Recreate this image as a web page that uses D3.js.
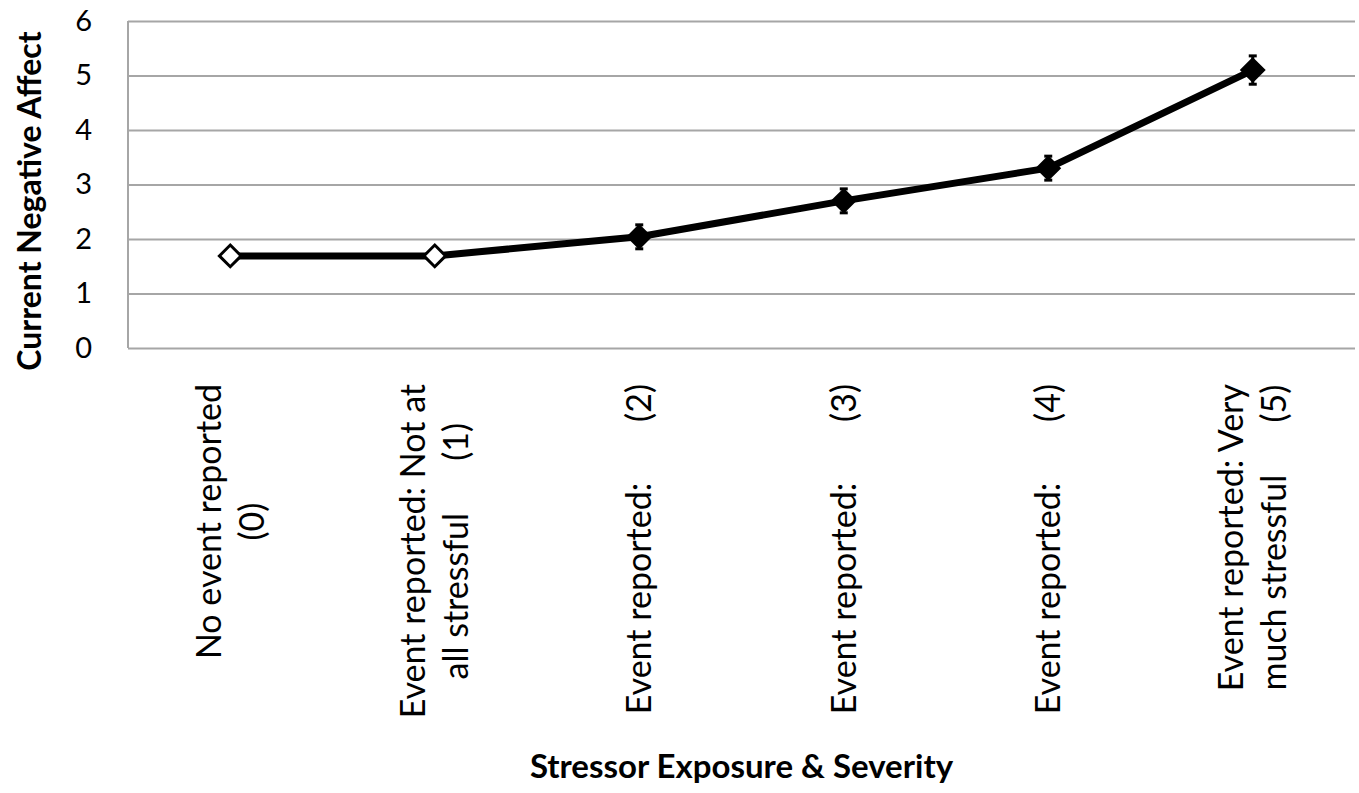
<!DOCTYPE html>
<html lang="en">
<head>
<meta charset="UTF-8" />
<title>Current Negative Affect by Stressor Exposure</title>
<script src="https://cdn.jsdelivr.net/npm/d3@7"></script>
<style>
  body { margin: 0; background: #fff; }
  text { font-family: Lato, "Open Sans", sans-serif; fill: #000; }
  .xlab { white-space: pre; }
</style>
</head>
<body>
<div id="chart"></div>
<script>
// data
var categories = ["0", "1", "2", "3", "4", "5"];
var labelLines = [
  ["No event reported", "(0)"],
  ["Event reported: Not at", "all stressful      (1)"],
  ["Event reported:       (2)"],
  ["Event reported:       (3)"],
  ["Event reported:       (4)"],
  ["Event reported: Very", "much stressful      (5)"]
];
var means = [1.69, 1.69, 2.04, 2.70, 3.30, 5.10];
var errors = [0, 0, 0.22, 0.22, 0.22, 0.26];
var hollow = [true, true, false, false, false, false];
var yTicks = [0, 1, 2, 3, 4, 5, 6];

var W = 1359, H = 793;
var margin = { top: 21, right: 4, bottom: 445, left: 128 };
var innerW = W - margin.left - margin.right;
var innerH = H - margin.top - margin.bottom;

var svg = d3.select("#chart").append("svg")
  .attr("width", W)
  .attr("height", H);

var g = svg.append("g")
  .attr("transform", "translate(" + margin.left + "," + margin.top + ")");

var x = d3.scaleBand().domain(categories).range([0, innerW]);
var y = d3.scaleLinear().domain([0, 6]).range([innerH, 0]);

// gridlines + y labels
var yAxis = g.append("g")
  .call(d3.axisLeft(y).tickValues(yTicks).tickSize(-innerW).tickPadding(36).tickFormat(d3.format("d")));
yAxis.select(".domain").remove();
yAxis.selectAll(".tick line").attr("stroke", "#a6a6a6").attr("stroke-width", 2);
yAxis.selectAll(".tick text").attr("font-size", 29).attr("fill", "#000");

// left axis line
g.append("line")
  .attr("x1", 0).attr("x2", 0)
  .attr("y1", y(6)).attr("y2", y(0))
  .attr("stroke", "#a6a6a6").attr("stroke-width", 2);

// the series line
var pts = categories.map(function(c, i) { return { c: c, v: means[i], e: errors[i], hollow: hollow[i] }; });

var line = d3.line()
  .x(function(d) { return x(d.c) + x.bandwidth() / 2; })
  .y(function(d) { return y(d.v); });

g.append("path")
  .datum(pts)
  .attr("d", line)
  .attr("fill", "none")
  .attr("stroke", "#000")
  .attr("stroke-width", 7)
  .attr("stroke-linejoin", "round");

// error bars
var eb = g.selectAll(".err").data(pts.filter(function(d) { return d.e > 0; }))
  .enter().append("g").attr("class", "err");
eb.append("line")
  .attr("x1", function(d) { return x(d.c) + x.bandwidth() / 2; })
  .attr("x2", function(d) { return x(d.c) + x.bandwidth() / 2; })
  .attr("y1", function(d) { return y(d.v + d.e); })
  .attr("y2", function(d) { return y(d.v - d.e); })
  .attr("stroke", "#000").attr("stroke-width", 3);
[1, -1].forEach(function(s) {
  eb.append("line")
    .attr("x1", function(d) { return x(d.c) + x.bandwidth() / 2 - 4; })
    .attr("x2", function(d) { return x(d.c) + x.bandwidth() / 2 + 4; })
    .attr("y1", function(d) { return y(d.v + s * d.e); })
    .attr("y2", function(d) { return y(d.v + s * d.e); })
    .attr("stroke", "#000").attr("stroke-width", 3);
});

// diamond markers
var diamond = d3.symbol().type(d3.symbolDiamond2).size(300);
g.selectAll(".mark").data(pts).enter().append("path")
  .attr("class", "mark")
  .attr("d", diamond)
  .attr("transform", function(d) { return "translate(" + (x(d.c) + x.bandwidth() / 2) + "," + y(d.v) + ")"; })
  .attr("fill", function(d) { return d.hollow ? "#fff" : "#000"; })
  .attr("stroke", "#000")
  .attr("stroke-width", 3);

// rotated category labels (top aligned, lines centred)
var labTop = innerH + 36;
var lineH = 43;
categories.forEach(function(c, i) {
  var lines = labelLines[i];
  var cx = x(c) + x.bandwidth() / 2;
  var t = g.append("g").attr("transform", "translate(" + cx + ",0) rotate(-90)");
  var texts = lines.map(function(s, j) {
    return t.append("text")
      .attr("class", "xlab")
      .attr("font-size", 34)
      .attr("text-anchor", "middle")
      .attr("y", (j - (lines.length - 1) / 2) * lineH + 12)
      .text(s);
  });
  var maxW = d3.max(texts, function(tt) { return tt.node().getComputedTextLength(); });
  texts.forEach(function(tt) { tt.attr("x", -(labTop + maxW / 2)); });
});

// axis titles
svg.append("text")
  .attr("transform", "translate(41," + (margin.top + 180) + ") rotate(-90)")
  .attr("text-anchor", "middle")
  .attr("font-size", 32)
  .attr("font-weight", "bold")
  .text("Current Negative Affect");

svg.append("text")
  .attr("x", margin.left + innerW / 2)
  .attr("y", 778)
  .attr("text-anchor", "middle")
  .attr("font-size", 33)
  .attr("font-weight", "bold")
  .text("Stressor Exposure & Severity");
</script>
</body>
</html>
